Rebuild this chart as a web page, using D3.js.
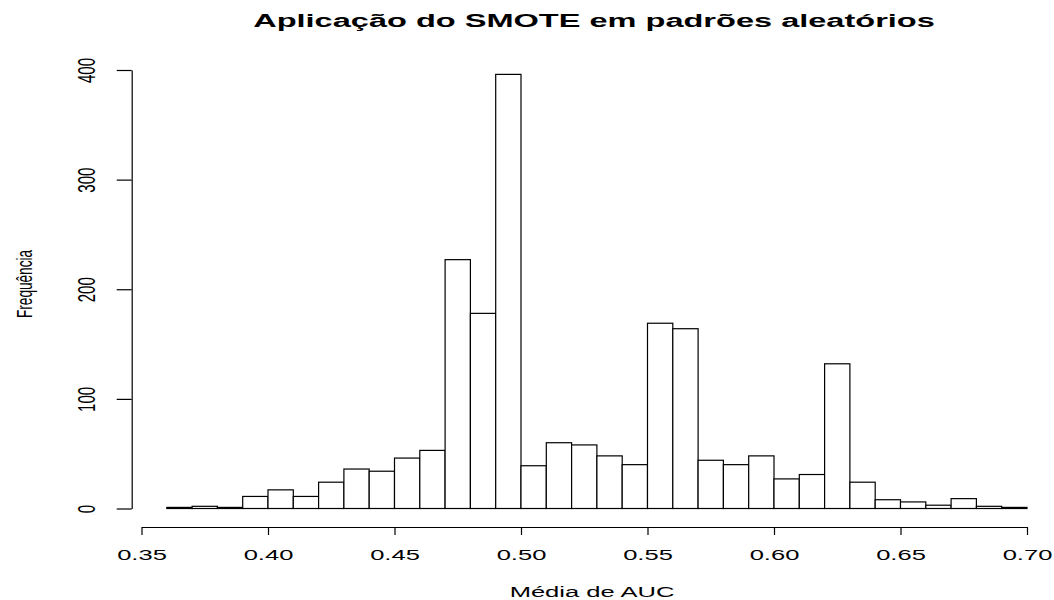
<!DOCTYPE html>
<html>
<head>
<meta charset="utf-8">
<script src="https://cdn.jsdelivr.net/npm/d3@7"></script>
<style>
  body { margin: 0; background: #fff; }
  text { font-family: "Liberation Sans", Arial, Helvetica, sans-serif; fill: #000; }
</style>
</head>
<body>
<div id="chart"></div>
<script>
// histogram of mean AUC (SMOTE on random patterns)
const binStarts = [0.36, 0.37, 0.38, 0.39, 0.40, 0.41, 0.42, 0.43, 0.44, 0.45, 0.46,
  0.47, 0.48, 0.49, 0.50, 0.51, 0.52, 0.53, 0.54, 0.55, 0.56, 0.57, 0.58, 0.59,
  0.60, 0.61, 0.62, 0.63, 0.64, 0.65, 0.66, 0.67, 0.68, 0.69];
const counts = [1, 2, 1, 11, 17, 11, 24, 36, 34, 46, 53,
  227, 178, 396, 39, 60, 58, 48, 40, 169, 164, 44, 40, 48,
  27, 31, 132, 24, 8, 6, 3, 9, 2, 1];
const binWidth = 0.01;
const xTicks = [0.35, 0.40, 0.45, 0.50, 0.55, 0.60, 0.65, 0.70];
const yTicks = [0, 100, 200, 300, 400];

const title = 'Aplicação do SMOTE em padrões aleatórios';
const xLabel = 'Média de AUC';
const yLabel = 'Frequência';

const width = 1054, height = 600;
// the original picture is stretched sideways, so the text is too
const stretch = 1.65;

const x = d3.scaleLinear().domain([0.35, 0.70]).range([141.5, 1027]);
const y = d3.scaleLinear().domain([0, 400]).range([508.5, 70]);

const svg = d3.select('#chart')
  .append('svg')
  .attr('width', width)
  .attr('height', height)
  .attr('viewBox', [0, 0, width, height]);

const bins = binStarts.map((b, i) => ({ x0: b, x1: b + binWidth, n: counts[i] }));

svg.append('g')
  .attr('class', 'bars')
  .selectAll('rect')
  .data(bins)
  .join('rect')
  .attr('x', d => x(d.x0))
  .attr('width', d => x(d.x1) - x(d.x0))
  .attr('y', d => y(d.n))
  .attr('height', d => y(0) - y(d.n))
  .attr('fill', '#fff')
  .attr('stroke', '#000')
  .attr('stroke-width', 1.2);

// x axis, dropped below the bars like R does
const xAxis = svg.append('g')
  .attr('transform', 'translate(0,527)')
  .call(d3.axisBottom(x).tickValues(xTicks).tickSize(8).tickSizeOuter(0).tickFormat(d3.format('.2f')));

xAxis.selectAll('text')
  .attr('y', 33)
  .attr('dy', 0)
  .attr('font-size', 15.5)
  .attr('font-family', null)
  .attr('transform', `scale(${stretch},1)`);

// y axis with rotated labels
const yAxis = svg.append('g')
  .attr('transform', 'translate(131.7,0)')
  .call(d3.axisLeft(y).tickValues(yTicks).tickSize(15).tickSizeOuter(0));

yAxis.selectAll('text')
  .attr('x', 0)
  .attr('dy', 0)
  .attr('text-anchor', 'middle')
  .attr('font-size', 15)
  .attr('font-family', null)
  .attr('transform', `translate(-36.7,0) scale(${stretch},1) rotate(-90)`);

svg.selectAll('.domain, .tick line')
  .attr('stroke', '#000')
  .attr('stroke-width', 1.2);

svg.append('text')
  .attr('text-anchor', 'middle')
  .attr('font-weight', 'bold')
  .attr('font-size', 18.6)
  .attr('transform', `translate(594,27) scale(1.75,1)`)
  .text(title);

svg.append('text')
  .attr('text-anchor', 'middle')
  .attr('font-size', 15.5)
  .attr('transform', `translate(592,597) scale(${stretch},1)`)
  .text(xLabel);

svg.append('text')
  .attr('text-anchor', 'middle')
  .attr('font-size', 13.6)
  .attr('transform', `translate(32,284) scale(${stretch},1) rotate(-90)`)
  .text(yLabel);
</script>
</body>
</html>
